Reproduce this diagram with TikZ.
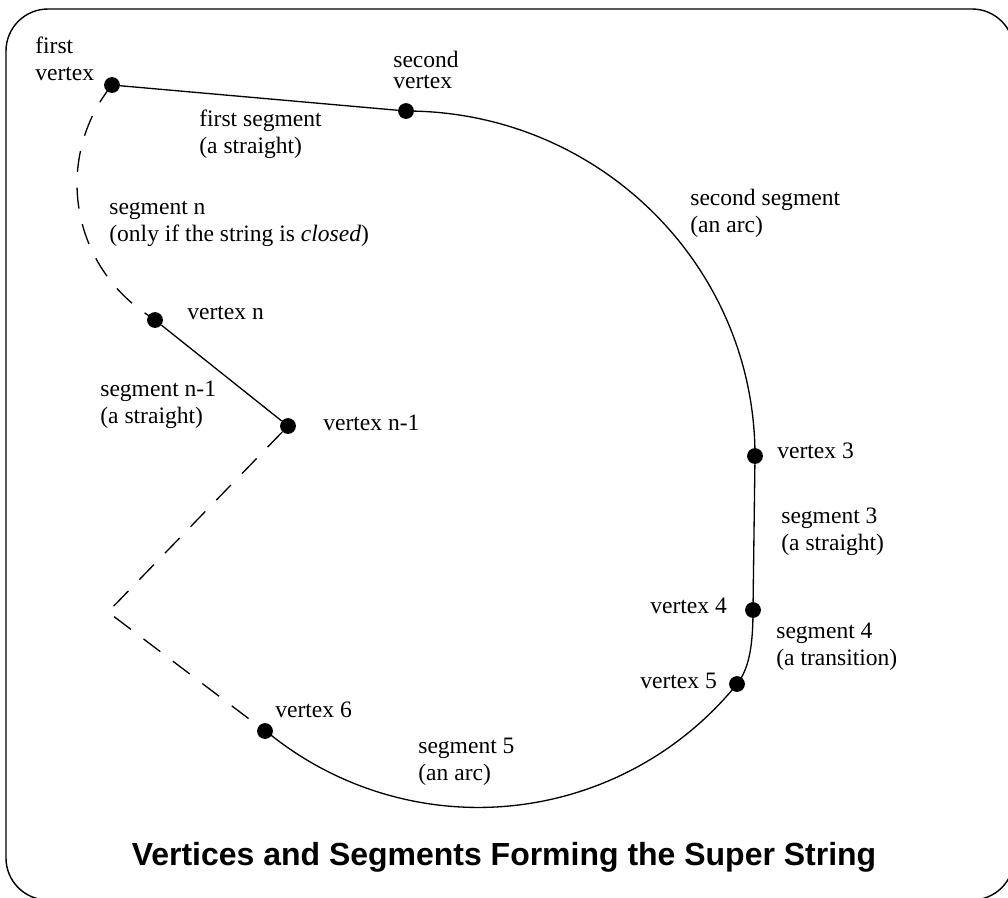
\documentclass[tikz,border=0pt]{standalone}
\usepackage{fontspec}
\setmainfont{Liberation Serif}
\newfontfamily\titlefont{Liberation Sans}
\usetikzlibrary{positioning}
\newcommand{\lblfont}{\fontsize{13.4}{14.9}\selectfont}
\tikzset{
  vertexdot/.style={circle, fill=black, inner sep=0pt, minimum size=9pt},
  seg/.style={line width=0.75pt},
  dashseg/.style={line width=0.75pt, dash pattern=on 12pt off 9pt},
  lbl/.style={anchor=base west, inner sep=0pt, align=left, font=\lblfont}
}

\begin{document}
\begin{tikzpicture}[x=0.02cm, y=-0.02cm]
      \useasboundingbox (0,0) rectangle (1008,897);
      \clip (0,0) rectangle (1008,897);
      \draw[line width=0.8pt, rounded corners=0.84cm] (6,9) rectangle (1014,900);
      % vertices
      \node[vertexdot] (v1) at (112,85) {};
      \node[vertexdot] (v2) at (406,111) {};
      \node[vertexdot] (v3) at (755,456) {};
      \node[vertexdot] (v4) at (753,610) {};
      \node[vertexdot] (v5) at (737,684) {};
      \node[vertexdot] (v6) at (265,731) {};
      \node[vertexdot] (vn) at (155,320) {};
      \node[vertexdot] (vn1) at (288,426) {};
      \coordinate (kink) at (108,612);
      % segments
      \draw[seg] (v1) -- (v2);
      \draw[seg] (v2.center) arc[start angle=-90, end angle=0, x radius=349, y radius=345];
      \draw[seg] (v3) -- (v4);
      \draw[seg] (v4.center) .. controls (753,642) and (750,668) .. (v5.center);
      \draw[seg] (v5.center) arc[start angle=39, end angle=130, radius=333];
      \draw[dashseg] (vn1) -- (kink) -- (v6);
      \draw[seg] (vn) -- (vn1);
      \draw[dashseg] (v1.center) arc[start angle=219, end angle=120, radius=157];
      % labels (base = last line)
      \node[lbl] (l1) at (35,80) {first\\vertex};
      \node[lbl] (l2) at (393,88) {second\\[-3pt]vertex};
      \node[lbl] (l3) at (199,153) {first segment\\(a straight)};
      \node[lbl] (l4) at (690,232) {second segment\\(an arc)};
      \node[lbl] (l5) at (109,241) {segment n\\(only if the string is \textit{closed})};
      \node[lbl] (l6) at (187,319) {vertex n};
      \node[lbl] (l7) at (100,423) {segment n-1\\(a straight)};
      \node[lbl] (l8) at (323,430) {vertex n-1};
      \node[lbl] (l9) at (777,458) {vertex 3};
      \node[lbl] (l10) at (781,550) {segment 3\\(a straight)};
      \node[lbl] (l11) at (650,613) {vertex 4};
      \node[lbl] (l12) at (776,665) {segment 4\\(a transition)};
      \node[lbl] (l13) at (640,688) {vertex 5};
      \node[lbl] (l14) at (275,717) {vertex 6};
      \node[lbl] (l15) at (418,780) {segment 5\\(an arc)};
      \node[anchor=base, inner sep=0pt, font=\titlefont\fontsize{18.2}{20}\selectfont\bfseries] (title) at (504,865)
        {Vertices and Segments Forming the Super String};
    \end{tikzpicture}
\end{document}
